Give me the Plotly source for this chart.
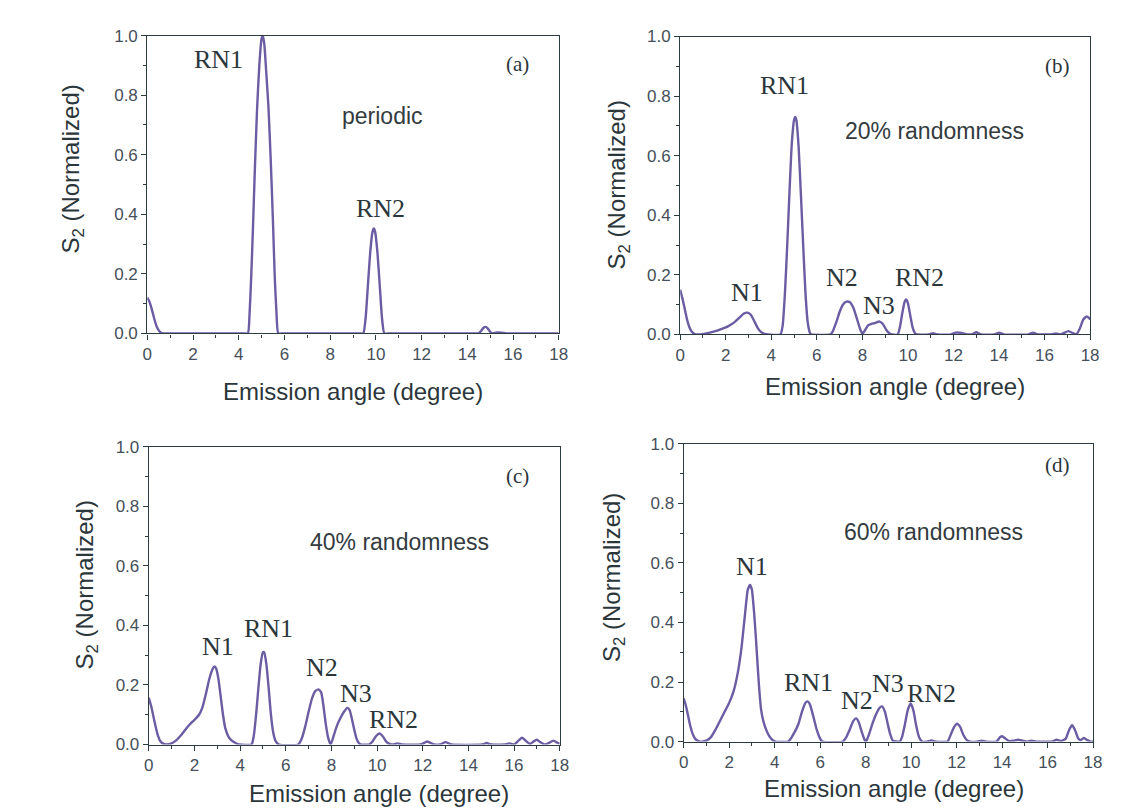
import plotly.graph_objects as go

# ---------------- data ----------------
angle_a = [0, 0.1, 0.2, 0.3, 0.4, 0.5, 0.6, 0.7, 0.9, 2.0, 4.2, 4.4, 4.47, 4.55, 4.62, 4.7, 4.8, 4.9, 5.0, 5.05,
           5.12, 5.2, 5.3, 5.4, 5.5, 5.57, 5.65, 5.73, 5.95, 8.0, 9.25, 9.45, 9.55, 9.65, 9.75, 9.85, 9.91, 9.97,
           10.07, 10.17, 10.27, 10.37, 10.6, 12.0, 14.3, 14.5, 14.6, 14.7, 14.8, 14.9, 15.0, 15.1, 15.3, 15.5,
           15.7, 15.9, 18]
s2_a = [0.12, 0.105, 0.08, 0.05, 0.025, 0.01, 0.002, 0, 0, 0, 0, 0, 0.06, 0.2, 0.35, 0.54, 0.75, 0.9, 0.99, 1.0,
        0.97, 0.88, 0.76, 0.58, 0.37, 0.2, 0.07, 0, 0, 0, 0, 0, 0.05, 0.16, 0.27, 0.34, 0.352, 0.34,
        0.27, 0.16, 0.05, 0, 0, 0, 0, 0, 0.008, 0.018, 0.022, 0.016, 0.005, 0, 0.003, 0.002,
        0, 0, 0]

angle_b = [0, 0.1, 0.2, 0.3, 0.4, 0.5, 0.6, 0.7, 0.9, 1.2, 1.5, 1.8, 2.1, 2.4, 2.6, 2.8, 2.95, 3.1, 3.25,
           3.4, 3.55, 3.7, 3.85, 4.4, 4.5, 4.6, 4.7, 4.8, 4.9, 5.0, 5.05, 5.1, 5.2, 5.3, 5.4, 5.5, 5.6,
           5.7, 5.75, 6.6, 6.7, 6.85, 7.0, 7.15, 7.3, 7.45, 7.6, 7.75, 7.9, 8.0, 8.1, 8.25, 8.4, 8.55,
           8.75, 8.9, 9.05, 9.2, 9.3, 9.55, 9.65, 9.75, 9.85, 9.92, 10.0, 10.1, 10.2, 10.3, 10.4, 10.9,
           11.1, 11.3, 11.9, 12.1, 12.35, 12.6, 12.8, 13.0, 13.2, 13.8, 14.0, 14.2, 15.3, 15.5, 15.7,
           16.3, 16.5, 16.7, 16.85, 17.05, 17.25, 17.4, 17.55, 17.7, 17.85, 17.95, 18]
s2_b = [0.15, 0.12, 0.085, 0.05, 0.025, 0.01, 0.003, 0, 0, 0.004, 0.01, 0.018, 0.027, 0.042, 0.056, 0.07,
        0.073, 0.066, 0.045, 0.022, 0.008, 0.002, 0, 0, 0.03, 0.14, 0.3, 0.48, 0.64, 0.72, 0.73, 0.72,
        0.63, 0.47, 0.3, 0.14, 0.04, 0.005, 0, 0, 0.01, 0.04, 0.075, 0.1, 0.11, 0.108, 0.09, 0.055,
        0.018, 0.002, 0.012, 0.03, 0.035, 0.038, 0.043, 0.035, 0.015, 0.003, 0, 0, 0.025, 0.07, 0.108,
        0.117, 0.105, 0.065, 0.025, 0.005, 0, 0, 0.004, 0, 0, 0.006, 0.005, 0, 0, 0.007, 0, 0, 0.006,
        0, 0, 0.006, 0, 0, 0.003, 0, 0.005, 0.011, 0.004, 0.001, 0.02, 0.05, 0.06, 0.055, 0.05]

angle_c = [0, 0.1, 0.2, 0.3, 0.4, 0.5, 0.65, 0.8, 1.0, 1.2, 1.4, 1.6, 1.8, 2.0, 2.2, 2.35, 2.5, 2.65, 2.8,
           2.88, 2.95, 3.05, 3.15, 3.25, 3.35, 3.5, 3.65, 3.8, 3.95, 4.5, 4.6, 4.7, 4.8, 4.9, 5.0, 5.05,
           5.15, 5.25, 5.35, 5.45, 5.55, 5.7, 6.55, 6.7, 6.85, 7.0, 7.15, 7.3, 7.43, 7.55, 7.65, 7.75,
           7.85, 7.97, 8.1, 8.25, 8.4, 8.55, 8.7, 8.8, 8.9, 9.0, 9.1, 9.2, 9.3, 9.65, 9.8, 9.95, 10.1,
           10.25, 10.4, 10.55, 10.7, 10.9, 11.1, 11.9, 12.2, 12.5, 12.75, 13.0, 13.25, 14.6, 14.8, 15.0,
           15.6, 15.8, 16.0, 16.15, 16.35, 16.55, 16.7, 16.85, 17.0, 17.15, 17.35, 17.55, 17.72, 17.9, 18]
s2_c = [0.157, 0.13, 0.095, 0.06, 0.03, 0.012, 0.002, 0, 0.004, 0.014, 0.03, 0.05, 0.068, 0.083, 0.1,
        0.125, 0.17, 0.22, 0.255, 0.262, 0.255, 0.22, 0.16, 0.1, 0.055, 0.025, 0.012, 0.005, 0, 0, 0.03,
        0.1, 0.19, 0.27, 0.31, 0.31, 0.27, 0.19, 0.1, 0.04, 0.012, 0, 0, 0.02, 0.06, 0.11, 0.155, 0.18,
        0.185, 0.175, 0.13, 0.07, 0.025, 0, 0.03, 0.065, 0.09, 0.11, 0.123, 0.115, 0.085, 0.05, 0.02,
        0.005, 0, 0, 0.01, 0.028, 0.037, 0.028, 0.01, 0.002, 0, 0.004, 0, 0, 0.01, 0, 0, 0.008, 0, 0,
        0.005, 0, 0, 0.004, 0, 0.01, 0.023, 0.01, 0.002, 0.01, 0.016, 0.008, 0, 0.006, 0.013, 0.006, 0.003]

angle_d = [0, 0.1, 0.2, 0.3, 0.4, 0.5, 0.65, 0.8, 1.0, 1.2, 1.4, 1.6, 1.8, 2.0, 2.2, 2.4, 2.55, 2.7, 2.82,
           2.92, 3.0, 3.1, 3.2, 3.3, 3.4, 3.5, 3.6, 3.75, 3.9, 4.05, 4.6, 4.75, 4.9, 5.05, 5.2, 5.35,
           5.45, 5.55, 5.7, 5.85, 6.0, 6.1, 7.0, 7.15, 7.3, 7.45, 7.58, 7.7, 7.82, 7.93, 8.02, 8.15,
           8.3, 8.45, 8.6, 8.72, 8.85, 8.97, 9.08, 9.2, 9.5, 9.6, 9.72, 9.85, 9.98, 10.1, 10.22, 10.35,
           10.48, 10.7, 10.9, 11.1, 11.6, 11.75, 11.9, 12.02, 12.15, 12.3, 12.45, 12.6, 12.9, 13.1,
           13.3, 13.75, 13.9, 14.0, 14.15, 14.3, 14.5, 14.7, 14.9, 15.1, 15.3, 15.5, 16.2, 16.4, 16.6,
           16.8, 16.95, 17.08, 17.2, 17.35, 17.45, 17.6, 17.75, 17.9, 18]
s2_d = [0.145, 0.12, 0.085, 0.05, 0.025, 0.01, 0.002, 0, 0.003, 0.015, 0.04, 0.07, 0.1, 0.13, 0.17, 0.24,
        0.32, 0.43, 0.51, 0.526, 0.51, 0.43, 0.32, 0.2, 0.11, 0.07, 0.045, 0.02, 0.006, 0, 0, 0.015,
        0.035, 0.06, 0.1, 0.13, 0.135, 0.125, 0.085, 0.04, 0.01, 0, 0, 0.015, 0.04, 0.068, 0.078, 0.065,
        0.035, 0.01, 0, 0.025, 0.06, 0.09, 0.112, 0.118, 0.1, 0.06, 0.025, 0.003, 0, 0.015, 0.055,
        0.105, 0.128, 0.105, 0.055, 0.015, 0, 0, 0.004, 0, 0, 0.025, 0.05, 0.06, 0.05, 0.022, 0.005, 0,
        0, 0.003, 0, 0, 0.014, 0.018, 0.01, 0.002, 0.003, 0.006, 0.003, 0, 0.003, 0, 0, 0.006, 0.002,
        0.01, 0.04, 0.055, 0.04, 0.01, 0.005, 0.012, 0.005, 0, 0]

panel_tags = ["(a)", "(b)", "(c)", "(d)"]
panel_notes = ["periodic", "20% randomness", "40% randomness", "60% randomness"]
x_ticks = [0, 2, 4, 6, 8, 10, 12, 14, 16, 18]
y_ticks = [0.0, 0.2, 0.4, 0.6, 0.8, 1.0]

# peak labels: (text, angle, S2) per panel
peak_labels = [
    [("RN1", 3.1, 0.92), ("RN2", 10.2, 0.42)],
    [("RN1", 4.56, 0.834), ("N1", 2.95, 0.142), ("N2", 7.09, 0.191), ("N3", 8.75, 0.098), ("RN2", 10.53, 0.191)],
    [("N1", 3.02, 0.328), ("RN1", 5.23, 0.39), ("N2", 7.59, 0.259), ("N3", 9.08, 0.172), ("RN2", 10.71, 0.085)],
    [("N1", 3.0, 0.589), ("RN1", 5.49, 0.198), ("N2", 7.63, 0.138), ("N3", 9.0, 0.194), ("RN2", 10.9, 0.16)],
]
tag_pos = [(16.2, 0.905), (16.57, 0.90), (16.17, 0.90), (16.42, 0.927)]
note_pos = [(10.3, 0.73), (11.17, 0.683), (10.97, 0.679), (10.98, 0.703)]

# ---------------- layout geometry (pixels) ----------------
W, H = 1140, 810
boxes = [(136, 552.5, 19, 324), (675.5, 1090.5, 20, 325), (137.5, 553.5, 440, 745), (679, 1093.5, 437, 742)]
ytitle_px = [(60, 156), (613, 172), (74, 582), (608, 574)]
xtitle_px = [(344, 383), (893, 378), (371, 795), (892, 790)]

LINE = "#6b5ca3"
AX = "#2d3c40"
TICKC = "#454f5a"
TXT = "#2b363b"
SANS = "Liberation Sans, Arial, sans-serif"
SERIF = "Liberation Serif, Times New Roman, serif"

fig = go.Figure()
series = [(angle_a, s2_a), (angle_b, s2_b), (angle_c, s2_c), (angle_d, s2_d)]
annotations = []
for i, (xs, ys) in enumerate(series):
    n = "" if i == 0 else str(i + 1)
    fig.add_trace(go.Scatter(x=xs, y=ys, mode="lines", xaxis="x" + n, yaxis="y" + n,
                             line=dict(color=LINE, width=2.4, shape="spline", smoothing=0.5),
                             showlegend=False, hoverinfo="skip"))
    l, r, t, b = boxes[i]
    fig.layout["xaxis" + n] = dict(
        domain=[l / W, r / W], anchor="y" + n, range=[0, 18], tickvals=x_ticks,
        ticks="outside", ticklen=5, tickwidth=1, tickcolor=AX,
        showline=True, linecolor=AX, linewidth=1.2, mirror=True,
        showgrid=False, zeroline=False,
        tickfont=dict(family=SANS, size=17, color=TICKC),
        minor=dict(dtick=1, tick0=0, ticks="outside", ticklen=3, tickcolor=AX, showgrid=False))
    fig.layout["yaxis" + n] = dict(
        domain=[1 - b / H, 1 - t / H], anchor="x" + n, range=[0, 1], tickvals=y_ticks,
        tickformat=".1f", ticks="outside", ticklen=5, tickwidth=1, tickcolor=AX,
        showline=True, linecolor=AX, linewidth=1.2, mirror=True,
        showgrid=False, zeroline=False,
        tickfont=dict(family=SANS, size=17, color=TICKC),
        minor=dict(dtick=0.1, tick0=0, ticks="outside", ticklen=3, tickcolor=AX, showgrid=False))

    xr, yr = "x" + n, "y" + n
    for txt, px, py in peak_labels[i]:
        annotations.append(dict(text=txt, x=px, y=py, xref=xr, yref=yr, showarrow=False,
                                font=dict(family=SERIF, size=26, color=TXT),
                                xanchor="center", yanchor="middle"))
    annotations.append(dict(text=panel_tags[i], x=tag_pos[i][0], y=tag_pos[i][1], xref=xr, yref=yr,
                            showarrow=False, font=dict(family=SERIF, size=21, color=TXT),
                            xanchor="center", yanchor="middle"))
    annotations.append(dict(text=panel_notes[i], x=note_pos[i][0], y=note_pos[i][1], xref=xr, yref=yr,
                            showarrow=False, font=dict(family=SANS, size=23, color="#333b40"),
                            xanchor="center", yanchor="middle"))
    yx, yy = ytitle_px[i]
    annotations.append(dict(text="S<sub>2</sub> (Normalized)", x=yx / W, y=1 - yy / H,
                            xref="paper", yref="paper", showarrow=False, textangle=-90,
                            font=dict(family=SANS, size=24, color=TXT),
                            xanchor="center", yanchor="middle"))
    xx, xy = xtitle_px[i]
    annotations.append(dict(text="Emission angle (degree)", x=xx / W, y=1 - xy / H,
                            xref="paper", yref="paper", showarrow=False,
                            font=dict(family=SANS, size=24, color=TXT),
                            xanchor="center", yanchor="middle"))

fig.update_layout(width=W, height=H, margin=dict(l=0, r=0, t=0, b=0),
                  paper_bgcolor="white", plot_bgcolor="white", annotations=annotations)
fig.write_html("out.html")
